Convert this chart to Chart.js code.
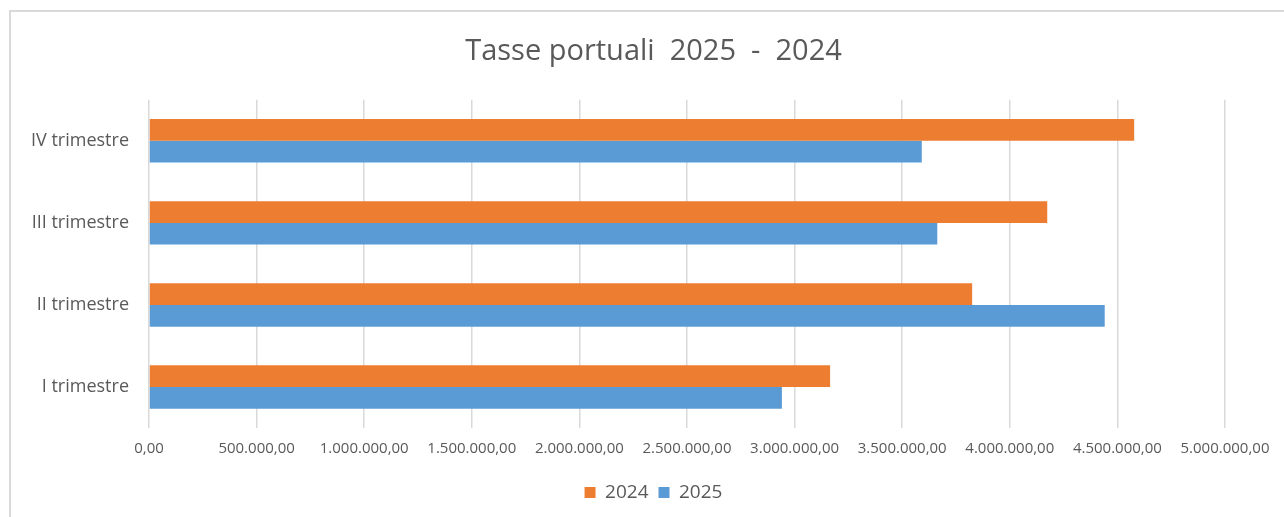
<!DOCTYPE html>
<html>
<head>
<meta charset="utf-8">
<title>Tasse portuali 2025 - 2024</title>
<script src="https://cdn.jsdelivr.net/npm/chart.js@4"></script>
<style>
  html, body { margin: 0; padding: 0; background: #fff; overflow: hidden; }
  #wrap { position: relative; width: 1284px; height: 517px; }
  #frame { position: absolute; left: 9px; top: 10px; width: 1300px; height: 540px;
           border: 2px solid #d9d9d9; box-sizing: border-box; }
  #graph { position: absolute; left: 0; top: 0; }
</style>
</head>
<body>
<div id="wrap">
  <div id="frame"></div>
  <canvas id="graph"></canvas>
</div>
<script>
const categories = ['IV trimestre', 'III trimestre', 'II trimestre', 'I trimestre'];
const values2024 = [4578000, 4174000, 3825000, 3165000];
const values2025 = [3591000, 3663000, 4441000, 2941000];
const xTickLabels = ['0,00', '500.000,00', '1.000.000,00', '1.500.000,00', '2.000.000,00',
  '2.500.000,00', '3.000.000,00', '3.500.000,00', '4.000.000,00', '4.500.000,00', '5.000.000,00'];

Chart.defaults.font.family = "'Open Sans', sans-serif";
Chart.defaults.color = '#595959';

// title and legend sit a bit right of the canvas centre in the original
const shiftBlocks = {
  id: 'shiftBlocks',
  afterLayout(chart) {
    const dx = 41;
    [chart.titleBlock, chart.legend].forEach(b => {
      if (b) { b.left += dx; b.right += dx; }
    });
  }
};

const ctx = document.getElementById('graph');
const barChart = new Chart(ctx, {
  type: 'bar',
  data: {
    labels: categories,
    datasets: [{
      label: '2024',
      data: values2024,
      backgroundColor: '#ed7d31',
      borderWidth: 0
    }, {
      label: '2025',
      data: values2025,
      backgroundColor: '#5b9bd5',
      borderWidth: 0
    }]
  },
  plugins: [shiftBlocks],
  options: {
    indexAxis: 'y',
    responsive: true,
    maintainAspectRatio: false,
    animation: false,
    categoryPercentage: 0.53,
    barPercentage: 1,
    layout: {
      padding: { left: 0, right: 59, top: 1, bottom: 5 }
    },
    plugins: {
      title: {
        display: true,
        text: 'Tasse portuali  2025  -  2024',
        color: '#595959',
        font: { size: 29, weight: 'normal' },
        padding: { top: 33, bottom: 31 }
      },
      legend: {
        position: 'bottom',
        labels: {
          boxWidth: 11,
          boxHeight: 11,
          padding: 10,
          color: '#595959',
          font: { size: 19 }
        }
      },
      tooltip: { enabled: false }
    },
    scales: {
      x: {
        min: 0,
        max: 5000000,
        ticks: {
          stepSize: 500000,
          padding: 12,
          font: { size: 15 },
          color: '#595959',
          callback: (v, i) => xTickLabels[i]
        },
        grid: { color: '#d9d9d9', lineWidth: 1.5, drawTicks: false },
        border: { display: false },
        afterFit: scale => { scale.height = 45; }
      },
      y: {
        ticks: {
          padding: 20,
          font: { size: 18 },
          color: '#595959'
        },
        grid: { display: false, drawTicks: false },
        border: { display: false },
        afterFit: scale => { scale.width = 149; }
      }
    }
  }
});
</script>
</body>
</html>
